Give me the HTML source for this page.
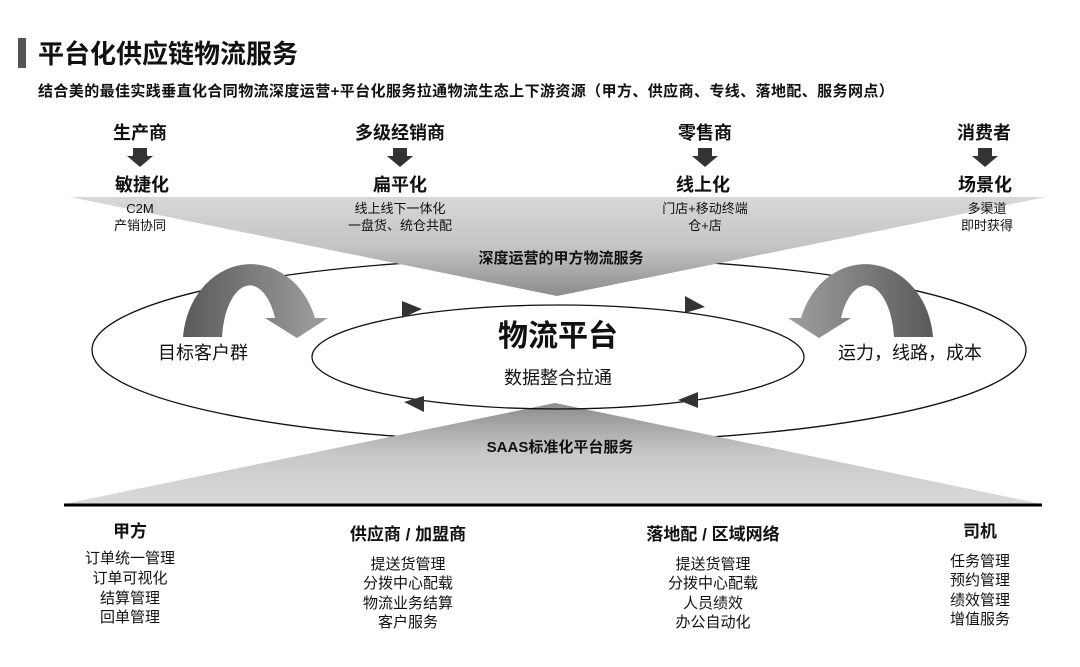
<!DOCTYPE html>
<html><head><meta charset="utf-8"><style>
html,body{margin:0;padding:0;background:#fff;width:1080px;height:667px;overflow:hidden}
text{font-family:"Liberation Sans","Noto Sans CJK SC",sans-serif;fill:#111}
.b{font-weight:bold}
</style></head><body>
<svg width="1080" height="667" viewBox="0 0 1080 667" xmlns="http://www.w3.org/2000/svg">
<defs>
<linearGradient id="gt" x1="0" y1="0" x2="0" y2="1">
<stop offset="0" stop-color="#d8d8d8"/><stop offset="0.5" stop-color="#c4c4c4"/><stop offset="1" stop-color="#8c8c8c"/></linearGradient>
<linearGradient id="gb" x1="0" y1="1" x2="0" y2="0">
<stop offset="0" stop-color="#dadada"/><stop offset="0.5" stop-color="#c8c8c8"/><stop offset="1" stop-color="#8c8c8c"/></linearGradient>
<linearGradient id="ga" x1="0" y1="0" x2="1" y2="0">
<stop offset="0" stop-color="#5a5a5a"/><stop offset="1" stop-color="#a0a0a0"/></linearGradient>
<linearGradient id="ga2" x1="1" y1="0" x2="0" y2="0">
<stop offset="0" stop-color="#5a5a5a"/><stop offset="1" stop-color="#a0a0a0"/></linearGradient>
</defs>
<rect x="18" y="38" width="8" height="30" fill="#555"/>
<text x="38" y="63" class="b" font-size="26">平台化供应链物流服务</text>
<text x="38" y="96" class="b" font-size="15" letter-spacing="0.4">结合美的最佳实践垂直化合同物流深度运营+平台化服务拉通物流生态上下游资源（甲方、供应商、专线、落地配、服务网点）</text>

<ellipse cx="559" cy="350" rx="467" ry="92" fill="none" stroke="#111" stroke-width="1.3"/>
<path d="M183,337 L222,337 A28,58 0 0 1 275,318 L265,318 L297,338 L328,318 L315,318 A68,80 0 0 0 183,337 Z" fill="url(#ga)"/>
<path d="M933,337 L894,337 A28,58 0 0 0 841,318 L851,318 L819,338 L788,318 L801,318 A68,80 0 0 1 933,337 Z" fill="url(#ga2)"/>
<polygon points="70,197 1046,197 557,296" fill="url(#gt)"/>
<polygon points="64,504 1042,504 555,403" fill="url(#gb)"/>
<line x1="64" y1="505" x2="1042" y2="505" stroke="#000" stroke-width="3"/>

<ellipse cx="558" cy="357" rx="246" ry="52" fill="none" stroke="#111" stroke-width="1.3"/>
<polygon points="402,301 402,318 422,309" fill="#333"/>
<polygon points="685,296 685,313 705,307" fill="#333"/>
<polygon points="424,396 424,412 404,402" fill="#333"/>
<polygon points="698,392 698,408 678,400" fill="#333"/>

<g class="b" font-size="18" text-anchor="middle">
<text x="140" y="139" class="b">生产商</text><text x="400" y="139" class="b">多级经销商</text>
<text x="705" y="139" class="b">零售商</text><text x="984" y="139" class="b">消费者</text>
<text x="142" y="191" class="b">敏捷化</text><text x="400" y="191" class="b">扁平化</text>
<text x="703" y="191" class="b">线上化</text><text x="985" y="191" class="b">场景化</text>
</g>
<g fill="#333">
<polygon points="133,148 147,148 147,156 153,156 140,167 127,156 133,156"/>
<polygon points="393,148 407,148 407,156 413,156 400,167 387,156 393,156"/>
<polygon points="698,148 712,148 712,156 718,156 705,167 692,156 698,156"/>
<polygon points="978,148 992,148 992,156 998,156 985,167 972,156 978,156"/>
</g>
<g font-size="13" text-anchor="middle">
<text x="140" y="213">C2M</text><text x="140" y="230">产销协同</text>
<text x="400" y="213">线上线下一体化</text><text x="400" y="230">一盘货、统仓共配</text>
<text x="705" y="213">门店+移动终端</text><text x="705" y="230">仓+店</text>
<text x="987" y="213">多渠道</text><text x="987" y="230">即时获得</text>
</g>
<text x="561" y="263" class="b" font-size="15" text-anchor="middle">深度运营的甲方物流服务</text>
<text x="558" y="346" class="b" font-size="30" text-anchor="middle">物流平台</text>
<text x="558" y="384" font-size="18" text-anchor="middle">数据整合拉通</text>
<text x="203" y="359" font-size="18" text-anchor="middle">目标客户群</text>
<text x="910" y="359" font-size="18" text-anchor="middle">运力，线路，成本</text>
<text x="560" y="452" class="b" font-size="15" text-anchor="middle">SAAS标准化平台服务</text>

<g text-anchor="middle">
<text x="130" y="537" class="b" font-size="17">甲方</text>
<text x="408" y="540" class="b" font-size="17">供应商 / 加盟商</text>
<text x="713" y="540" class="b" font-size="17">落地配 / 区域网络</text>
<text x="980" y="537" class="b" font-size="17">司机</text>
<g font-size="15">
<text x="130" y="563">订单统一管理</text><text x="130" y="583">订单可视化</text><text x="130" y="603">结算管理</text><text x="130" y="622">回单管理</text>
<text x="408" y="569">提送货管理</text><text x="408" y="588">分拨中心配载</text><text x="408" y="608">物流业务结算</text><text x="408" y="627">客户服务</text>
<text x="713" y="569">提送货管理</text><text x="713" y="588">分拨中心配载</text><text x="713" y="608">人员绩效</text><text x="713" y="627">办公自动化</text>
<text x="980" y="566">任务管理</text><text x="980" y="585">预约管理</text><text x="980" y="605">绩效管理</text><text x="980" y="624">增值服务</text>
</g></g>
</svg>
</body></html>
